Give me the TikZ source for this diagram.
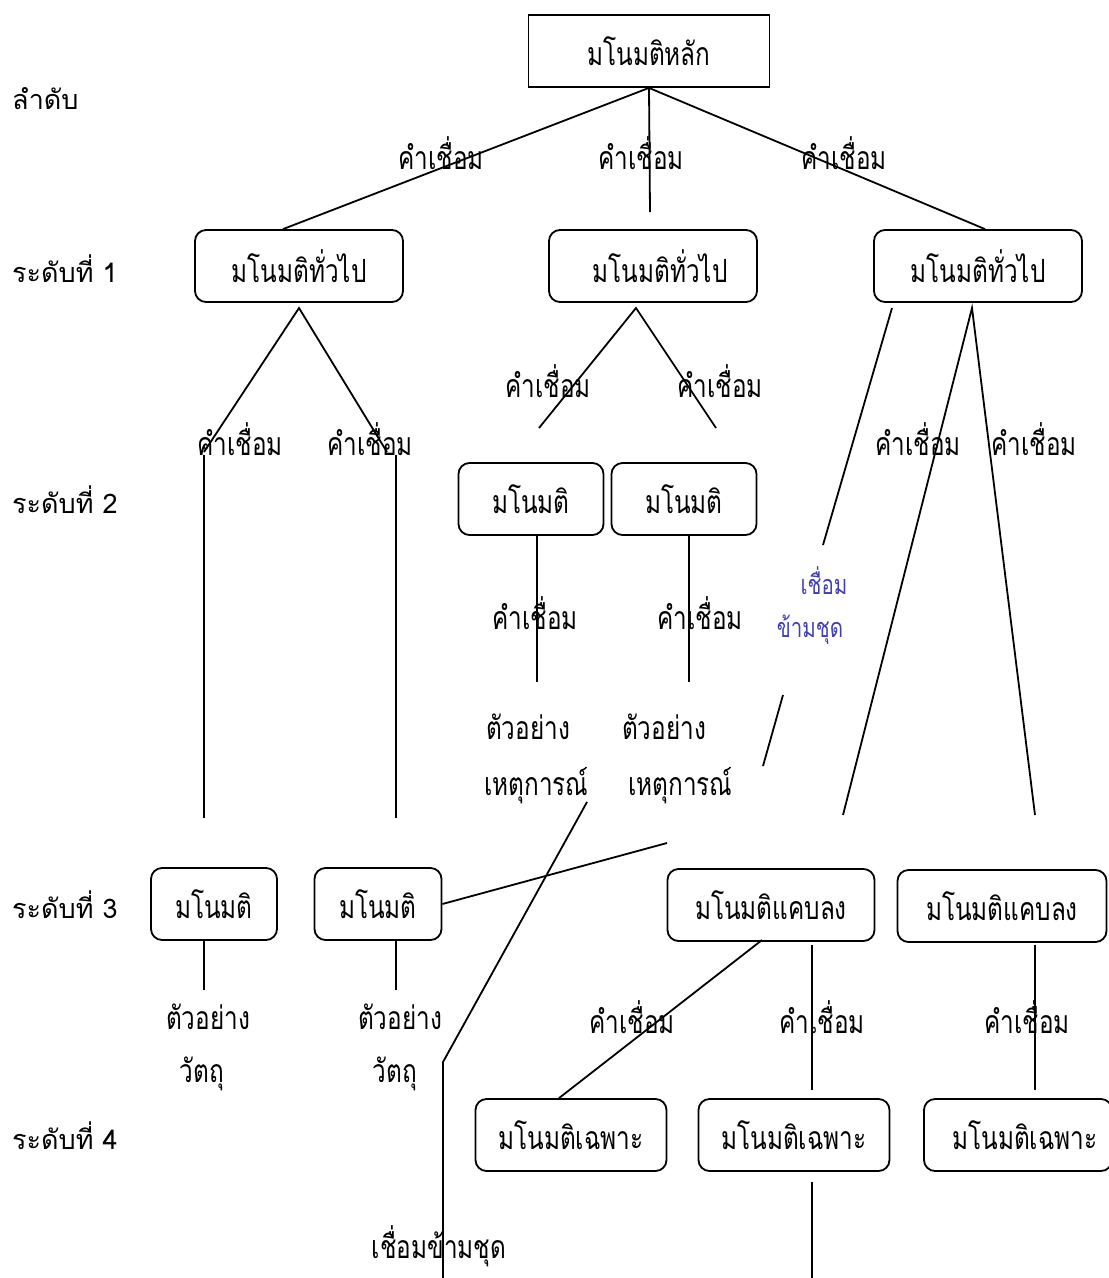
\documentclass[tikz,border=0pt]{standalone}
\usepackage{fontspec}
\newfontfamily\thaifont[Script=Thai,FakeStretch=0.76]{Loma}
\newfontfamily\thaiside[Script=Thai]{Loma}
\definecolor{linkblue}{RGB}{64,64,176}
\tikzset{
  box/.style={draw,line width=1.8pt,rounded corners=11pt,inner sep=0pt,
    minimum height=72pt,font=\thaifont\fontsize{32}{36}\selectfont},
  word/.style={inner sep=0pt,font=\thaifont\fontsize{32}{36}\selectfont},
  side/.style={anchor=west,inner sep=0pt,font=\thaiside\fontsize{27}{31}\selectfont},
  link/.style={line width=1.8pt}
}
\begin{document}
\begin{tikzpicture}[x=1pt,y=-1pt]
  \useasboundingbox (0,0) rectangle (1109,1278);
  % Levels
  \node[side] (rank) at (12,99) {ลำดับ};
  \node[side] (lv1) at (12,269) {ระดับที่ 1};
  \node[side] (lv2) at (12,500) {ระดับที่ 2};
  \node[side] (lv3) at (12,905) {ระดับที่ 3};
  \node[side] (lv4) at (12,1136) {ระดับที่ 4};
  % Concepts
  \node[box,sharp corners,minimum width=241pt] (main) at (649,51) {มโนมติหลัก};
  \node[box,minimum width=208pt] (gen1) at (299,266) {มโนมติทั่วไป};
  \node[box,minimum width=208pt] (gen2) at (653,266) {\hspace{14pt}มโนมติทั่วไป};
  \node[box,minimum width=208pt] (gen3) at (978,266) {มโนมติทั่วไป};
  \node[box,minimum width=145pt] (con1) at (531,499) {มโนมติ};
  \node[box,minimum width=145pt] (con2) at (684,499) {มโนมติ};
  \node[box,minimum width=126pt] (con3) at (214,904) {มโนมติ};
  \node[box,minimum width=127pt] (con4) at (378,904) {มโนมติ\hspace{26pt}};
  \node[box,minimum width=207pt] (nar1) at (771,905) {มโนมติแคบลง};
  \node[box,minimum width=209pt] (nar2) at (1002,906) {มโนมติแคบลง};
  \node[box,minimum width=191pt] (spc1) at (571,1135) {มโนมติเฉพาะ};
  \node[box,minimum width=191pt] (spc2) at (794,1135) {มโนมติเฉพาะ};
  \node[box,minimum width=188pt] (spc3) at (1018,1135) {\hspace{14pt}มโนมติเฉพาะ};
  % Free ends
  \coordinate (m1) at (650,212);
  \coordinate (g1) at (299,308);
  \coordinate (g1l) at (204,452);
  \coordinate (g1r) at (387,452);
  \coordinate (v1a) at (204,455);
  \coordinate (v1b) at (204,818);
  \coordinate (v2a) at (396,455);
  \coordinate (v2b) at (396,818);
  \coordinate (g2) at (636,308);
  \coordinate (g2l) at (539,428);
  \coordinate (g2r) at (716,428);
  \coordinate (c1) at (537,682);
  \coordinate (c2) at (689,682);
  \coordinate (g3a) at (892,308);
  \coordinate (g3b) at (972,308);
  \coordinate (x1) at (823,545);
  \coordinate (x2) at (783,695);
  \coordinate (x3) at (763,766);
  \coordinate (x4) at (667,843);
  \coordinate (g3l) at (843,815);
  \coordinate (g3r) at (1035,815);
  \coordinate (y1) at (587,802);
  \coordinate (y2) at (443,1062);
  \coordinate (y3) at (443,1278);
  \coordinate (o1) at (204,990);
  \coordinate (o2) at (396,990);
  \coordinate (n1) at (762,940);
  \coordinate (n2) at (812,945);
  \coordinate (n2b) at (812,1090);
  \coordinate (n3) at (1035,945);
  \coordinate (n3b) at (1035,1090);
  \coordinate (s1) at (812,1182);
  \coordinate (s2) at (812,1278);
  % Connectors
  \draw[link] (main.south) -- ([xshift=-16pt]gen1.north);
  \draw[link] (main.south) -- (m1);
  \draw[link] (main.south) -- ([xshift=7pt]gen3.north);
  \draw[link] (g1l) -- (g1) -- (g1r);
  \draw[link] (v1a) -- (v1b);
  \draw[link] (v2a) -- (v2b);
  \draw[link] (g2l) -- (g2) -- (g2r);
  \draw[link] (con1.south -| c1) -- (c1);
  \draw[link] (con2.south -| c2) -- (c2);
  \draw[link] (g3a) -- (x1);
  \draw[link] (x2) -- (x3);
  \draw[link] (x4) -- (con4.east);
  \draw[link] (g3l) -- (g3b) -- (g3r);
  \draw[link] (y1) -- (y2) -- (y3);
  \draw[link] (con3.south -| o1) -- (o1);
  \draw[link] (con4.south -| o2) -- (o2);
  \draw[link] (n1) -- ([xshift=-12pt]spc1.north);
  \draw[link] (n2) -- (n2b);
  \draw[link] (n3) -- (n3b);
  \draw[link] (s1) -- (s2);
  % Link words
  \node[word] (w1) at (441,153) {คำเชื่อม};
  \node[word] (w2) at (641,153) {คำเชื่อม};
  \node[word] (w3) at (844,153) {คำเชื่อม};
  \node[word] (w4) at (240,439) {คำเชื่อม};
  \node[word] (w5) at (370,439) {คำเชื่อม};
  \node[word] (w6) at (548,381) {คำเชื่อม};
  \node[word] (w7) at (720,381) {คำเชื่อม};
  \node[word] (w8) at (918,439) {คำเชื่อม};
  \node[word] (w9) at (1034,439) {คำเชื่อม};
  \node[word] (w10) at (535,613) {คำเชื่อม};
  \node[word] (w11) at (700,613) {คำเชื่อม};
  \node[word] (w12) at (632,1017) {คำเชื่อม};
  \node[word] (w13) at (822,1017) {คำเชื่อม};
  \node[word] (w14) at (1027,1017) {คำเชื่อม};
  % Examples
  \node[word,anchor=west] (ev1) at (486,727) {ตัวอย่าง};
  \node[word,anchor=west] (ev2) at (484,786) {เหตุการณ์};
  \node[word,anchor=west] (ev3) at (622,727) {ตัวอย่าง};
  \node[word,anchor=west] (ev4) at (628,786) {เหตุการณ์};
  \node[word] (ob1) at (208,1017) {ตัวอย่าง};
  \node[word] (ob2) at (202,1074) {วัตถุ};
  \node[word] (ob3) at (400,1017) {ตัวอย่าง};
  \node[word] (ob4) at (395,1074) {วัตถุ};
  % Cross links
  \node[word,text=linkblue,font=\thaifont\fontsize{27}{31}\selectfont] (xl1) at (824,581) {เชื่อม};
  \node[word,text=linkblue,font=\thaifont\fontsize{27}{31}\selectfont] (xl2) at (810,630) {ข้ามชุด};
  \node[word] (xl3) at (439,1246) {เชื่อมข้ามชุด};
\end{tikzpicture}
\end{document}
